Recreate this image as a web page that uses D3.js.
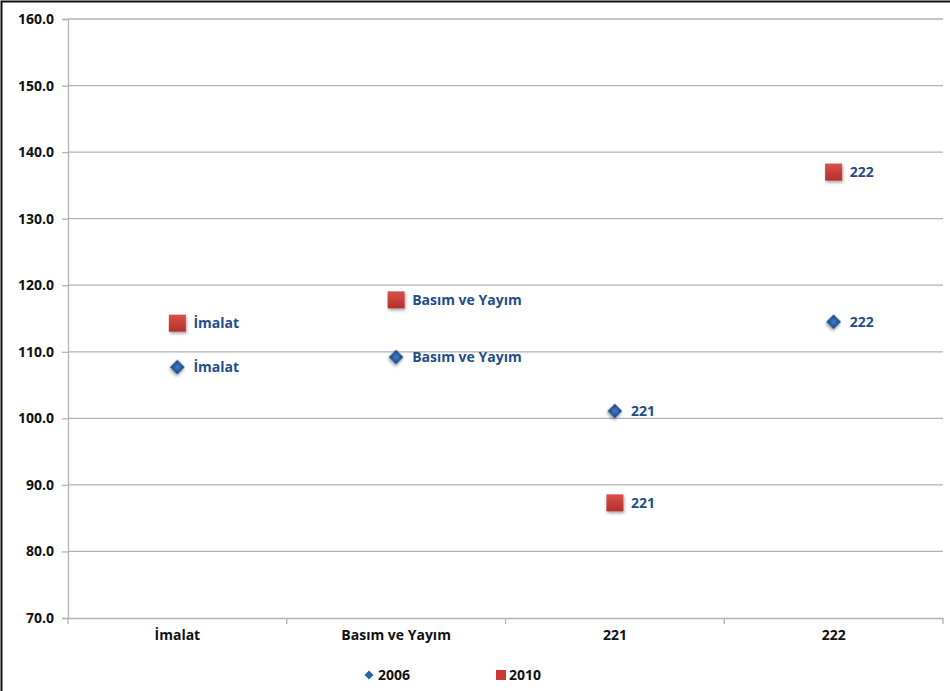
<!DOCTYPE html>
<html><head><meta charset="utf-8">
<script src="https://cdn.jsdelivr.net/npm/d3@7"></script>
<style>body{margin:0;background:#fff}svg{display:block}text{font-family:"Open Sans",sans-serif;font-weight:bold}</style>
</head><body><svg id="c" width="950" height="691"></svg>
<script>
const categories = ["İmalat", "Basım ve Yayım", "221", "222"];
const series2006 = [107.7, 109.2, 101.1, 114.5];
const series2010 = [114.3, 117.8, 87.3, 137.0];
const yTicks = [70, 80, 90, 100, 110, 120, 130, 140, 150, 160];
const seriesNames = ["2006", "2010"];

const svg = d3.select("#c");
const W = 950, H = 691;
const m = {left: 68, right: 943, top: 19, bottom: 618};
const FONT = '"Open Sans",sans-serif';
const FS = "14px";

svg.append("rect").attr("width",W).attr("height",H).attr("fill","#fff");
svg.append("path").attr("d",`M1.5,${H} L1.5,1.5 L${W},1.5`).attr("fill","none")
  .attr("stroke","#111").attr("stroke-width",2);

const defs = svg.append("defs");
const rg = defs.append("linearGradient").attr("id","rg").attr("x1",0).attr("y1",0).attr("x2",0).attr("y2",1);
rg.append("stop").attr("offset","0%").attr("stop-color","#d9504a");
rg.append("stop").attr("offset","100%").attr("stop-color","#b42f2b");
const bg = defs.append("radialGradient").attr("id","bg");
bg.append("stop").attr("offset","0%").attr("stop-color","#4a7cc0");
bg.append("stop").attr("offset","100%").attr("stop-color","#1f4f8f");
const f = defs.append("filter").attr("id","sh").attr("x","-50%").attr("y","-50%").attr("width","200%").attr("height","200%");
f.append("feDropShadow").attr("dx",1).attr("dy",2).attr("stdDeviation",1.5).attr("flood-color","#000").attr("flood-opacity",0.35);

const x = d3.scaleBand().domain(categories).range([m.left, m.right]);
const y = d3.scaleLinear().domain([70,160]).range([m.bottom, m.top]);

svg.append("g").selectAll("line").data(yTicks.slice(1)).join("line")
  .attr("x1",m.left).attr("x2",m.right).attr("y1",d=>y(d)).attr("y2",d=>y(d))
  .attr("stroke","#b3b3b3").attr("stroke-width",1.3);

const ya = svg.append("g").attr("transform",`translate(${m.left},0)`)
  .call(d3.axisLeft(y).tickValues(yTicks).tickFormat(d3.format(".1f")).tickSize(6).tickPadding(8));
ya.select(".domain").attr("stroke","#b3b3b3").attr("stroke-width",1.3);
ya.selectAll(".tick line").attr("stroke","#b3b3b3").attr("stroke-width",1.3);
ya.selectAll("text").attr("fill","#111").style("font-size",FS).style("font-family",FONT).style("font-weight","bold");

const xa = svg.append("g").attr("transform",`translate(0,${m.bottom})`)
  .call(d3.axisBottom(x).tickSize(0).tickPadding(12));
xa.select(".domain").attr("stroke","#b3b3b3").attr("stroke-width",1.3);
xa.selectAll("text").attr("fill","#111").style("font-size",FS).style("font-family",FONT).style("font-weight","bold");
const bounds = categories.map(c=>x(c)).concat([m.right]);
svg.append("g").selectAll("line").data(bounds).join("line")
  .attr("x1",d=>d).attr("x2",d=>d).attr("y1",m.bottom).attr("y2",m.bottom+6)
  .attr("stroke","#b3b3b3").attr("stroke-width",1.3);

const cx = c => x(c) + x.bandwidth()/2;

const g06 = svg.append("g");
categories.forEach((c,i)=>{
  g06.append("path").attr("d", d3.symbol().type(d3.symbolSquare).size(110)())
    .attr("transform",`translate(${cx(c)},${y(series2006[i])}) rotate(45)`)
    .attr("fill","url(#bg)").attr("filter","url(#sh)");
  g06.append("text").attr("x",cx(c)+16).attr("y",y(series2006[i])).attr("dy","0.35em")
    .attr("fill","#1f4e8c").style("font-size",FS).text(c);
});
const g10 = svg.append("g");
categories.forEach((c,i)=>{
  g10.append("rect").attr("x",cx(c)-8.5).attr("y",y(series2010[i])-8.5).attr("width",17).attr("height",17)
    .attr("fill","url(#rg)").attr("filter","url(#sh)");
  g10.append("text").attr("x",cx(c)+16).attr("y",y(series2010[i])).attr("dy","0.35em")
    .attr("fill","#1f4e8c").style("font-size",FS).text(c);
});

const lg = svg.append("g");
lg.append("path").attr("d", d3.symbol().type(d3.symbolSquare).size(40)())
  .attr("transform","translate(369,675) rotate(45)").attr("fill","#2e63a8");
lg.append("text").attr("x",378).attr("y",675).attr("dy","0.35em").attr("fill","#111").style("font-size",FS).text(seriesNames[0]);
lg.append("rect").attr("x",496).attr("y",670).attr("width",10).attr("height",10).attr("fill","#c83a35");
lg.append("text").attr("x",509).attr("y",675).attr("dy","0.35em").attr("fill","#111").style("font-size",FS).text(seriesNames[1]);
</script></body></html>
